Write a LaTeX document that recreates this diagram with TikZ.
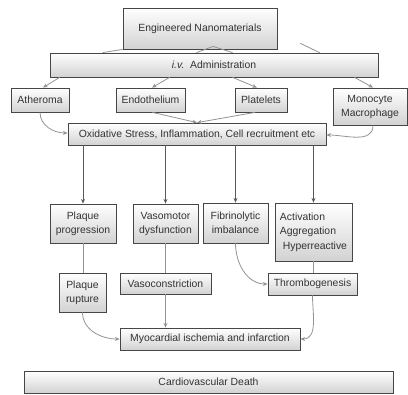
\documentclass[tikz,border=0pt]{standalone}
\usepackage{fontspec}
\setmainfont{Liberation Sans}
\usetikzlibrary{calc,shadows,arrows.meta}
\begin{document}
\begin{tikzpicture}[x=0.75pt,y=-0.75pt,
  box/.style={draw=gray!55!black,line width=0.6pt,top color=white,bottom color=gray!35,
    inner sep=1pt,font=\fontsize{7.8}{10.5}\selectfont,text=black!80,align=center,
    drop shadow={shadow xshift=0.9pt,shadow yshift=-0.9pt,fill=gray!45,opacity=0.7}},
  sz/.style 2 args={minimum width=#1*0.75pt,minimum height=#2*0.75pt},
  link/.style={draw=gray!85,line width=0.6pt},
  arr/.style={link,-{Stealth[length=3.5pt,width=3pt]}},
  down/.style={draw=gray!70!black,line width=0.6pt,-{Stealth[length=3.5pt,width=3pt]}}]
\useasboundingbox (0,0) rectangle (408,394);

% boxes
\node[box,sz={154}{41}] (eng) at (200,28.5) {Engineered Nanomaterials};
\node[box,sz={328}{24}] (iv) at (214,65) {\textit{i.v.}\ \ Administration};
\node[box,sz={58}{24}] (ath) at (40,100) {Atheroma};
\node[box,sz={69}{24}] (endo) at (150.5,100) {Endothelium};
\node[box,sz={52}{24}] (plat) at (261,100) {Platelets};
\node[box,sz={74}{37}] (mono) at (370,106.5) {Monocyte\\Macrophage};
\node[box,sz={258}{22}] (ox) at (197,134) {Oxidative Stress, Inflammation, Cell recruitment etc};
\node[box,sz={66}{39}] (pp) at (83,223.5) {Plaque\\progression};
\node[box,sz={65}{39}] (vd) at (165.5,223.5) {Vasomotor\\dysfunction};
\node[box,sz={65}{40}] (fi) at (235.5,223) {Fibrinolytic\\imbalance};
\node[box,sz={77}{58},align=left,font=\fontsize{7.8}{11}\selectfont] (act) at (313.5,232) {Activation\\Aggregation\\\ Hyperreactive};
\node[box,sz={47}{39}] (pr) at (82.5,292.5) {Plaque\\rupture};
\node[box,sz={91}{21}] (vc) at (165.5,283.5) {Vasoconstriction};
\node[box,sz={89}{22}] (th) at (312.5,284) {Thrombogenesis};
\node[box,sz={180}{22}] (my) at (210,339) {Myocardial ischemia and infarction};
\node[box,sz={369}{22}] (cd) at (208.5,382) {Cardiovascular Death};

% branches from the top box
\draw[link] (eng.south west) -- ($(iv.north west)+(53,0)$);
\draw[link] ($(eng.south)+(13,-3)$) -- ($(iv.north west)+(147,0)$);
\draw[link] ($(eng.south)+(13,-3)$) -- ($(iv.north west)+(183,0)$);
\draw[link] ($(eng.south east)+(23,-6)$) -- ($(iv.north west)+(270,0)$);

% administration routes
\draw[arr] ($(iv.south west)+(10,0)$) -- ($(ath.north)+(3,0)$);
\draw[arr] ($(iv.south west)+(120,0)$) -- ($(endo.north)+(1.5,0)$);
\draw[arr] ($(iv.south west)+(183,0)$) -- ($(plat.north)+(-4,0)$);
\draw[arr] ($(iv.south west)+(305,0)$) -- ($(mono.north)+(3,0)$);

% into oxidative stress
\draw[arr] ($(endo.south)+(2,0)$) -- (ox.north);
\draw[arr] ($(plat.south)+(-6,0)$) -- (ox.north);
\draw[arr] (ath.south) to[out=-90,in=180] ($(ox.west)+(0,-1)$);
\draw[arr] ($(mono.south)+(3,0)$) to[out=-90,in=0] ($(ox.east)+(0,1)$);

% downstream effects
\draw[down] (ox.south -| pp.north) -- (pp.north);
\draw[down] (ox.south -| vd.north) -- (vd.north);
\draw[down] (ox.south -| fi.north) -- (fi.north);
\draw[down] (ox.south -| act.north) -- (act.north);

\draw[link] (pp.south) -- (pr.north -| pp.south);
\draw[link] (vd.south) -- (vc.north -| vd.south);
\draw[arr] (fi.south) to[out=-90,in=180] (th.west);
\draw[link] (act.south) -- (th.north -| act.south);

\draw[arr] (pr.south) to[out=-90,in=180] (my.west);
\draw[arr] (vc.south) -- (my.north -| vc.south);
\draw[arr] (th.south) to[out=-90,in=0] (my.east);
\end{tikzpicture}
\end{document}
